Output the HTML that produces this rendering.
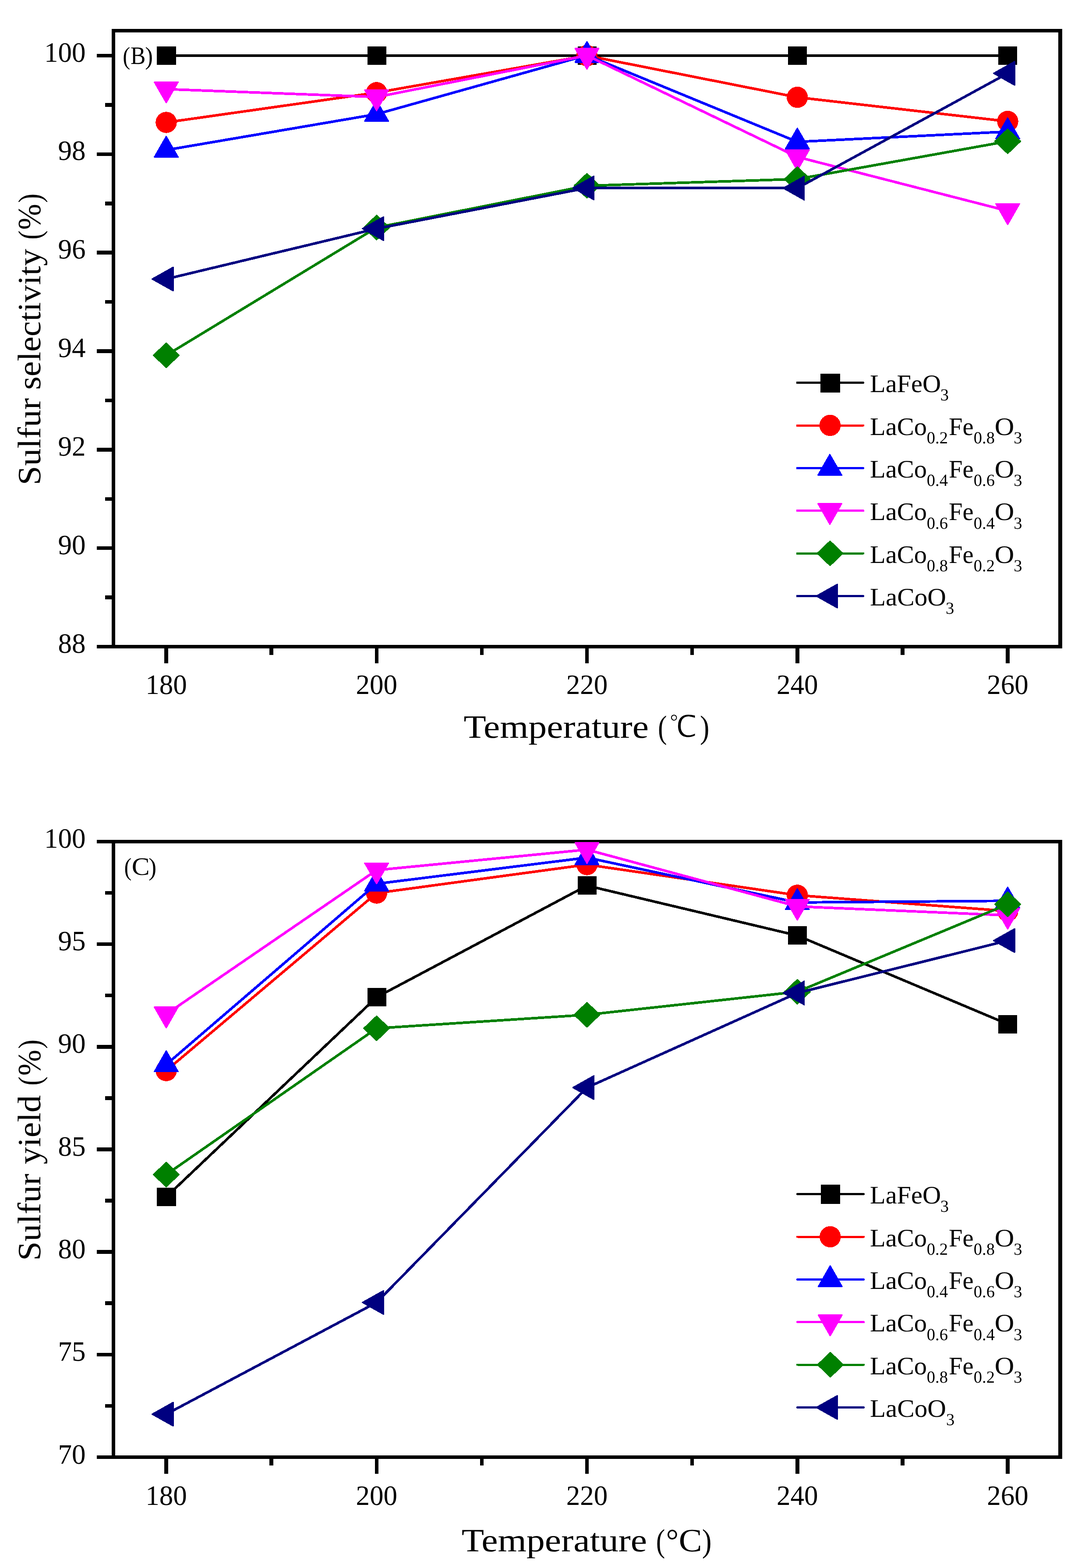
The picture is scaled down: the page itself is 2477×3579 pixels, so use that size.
<!DOCTYPE html>
<html lang="en">
<head>
<meta charset="utf-8">
<title>Sulfur selectivity and sulfur yield vs temperature</title>
<style>
html,body{margin:0;padding:0;background:#fff;}
body{width:2477px;height:3579px;overflow:hidden;}
svg{display:block;}
</style>
</head>
<body>
<svg width="2477" height="3579" viewBox="0 0 2477 3579">
<rect width="2477" height="3579" fill="#ffffff"/>
<g id="chart1">
<path d="M255 66h2170v8h-2170zM255 1472h2170v8h-2170zM255 66h8v1414h-8zM2416 66h9v1414h-9zM221 1472h34v8h-34zM221 1247h34v8h-34zM221 1022h34v9h-34zM221 797h34v9h-34zM221 572h34v9h-34zM221 348h34v8h-34zM221 123h34v8h-34zM240 1359h15v9h-15zM240 1135h15v8h-15zM240 910h15v8h-15zM240 685h15v8h-15zM240 460h15v9h-15zM240 235h15v9h-15zM375 1480h9v34h-9zM856 1480h8v34h-8zM1336 1480h8v34h-8zM1816 1480h9v34h-9zM2296 1480h9v34h-9zM615 1480h9v15h-9zM1096 1480h8v15h-8zM1576 1480h8v15h-8zM2056 1480h9v15h-9z" fill="#000" shape-rendering="crispEdges"/>
<g shape-rendering="crispEdges">
<g><polyline points="379.50,127.00 859.75,127.00 1340.00,127.00 1820.25,127.00 2300.50,127.00" fill="none" stroke="#000000" stroke-width="5.9" stroke-linejoin="round"/>
<rect x="358" y="106" width="44" height="42" fill="#000000"/>
<rect x="839" y="106" width="43" height="42" fill="#000000"/>
<rect x="1319" y="106" width="43" height="42" fill="#000000"/>
<rect x="1799" y="106" width="43" height="42" fill="#000000"/>
<rect x="2279" y="106" width="43" height="42" fill="#000000"/>
</g>
<g><polyline points="379.50,279.45 859.75,211.40 1340.00,127.00 1820.25,222.05 2300.50,277.10" fill="none" stroke="#ff0000" stroke-width="5.9" stroke-linejoin="round"/>
<circle cx="379.50" cy="279.45" r="24.2" fill="#ff0000"/>
<circle cx="859.75" cy="211.40" r="24.2" fill="#ff0000"/>
<circle cx="1340.00" cy="127.00" r="24.2" fill="#ff0000"/>
<circle cx="1820.25" cy="222.05" r="24.2" fill="#ff0000"/>
<circle cx="2300.50" cy="277.10" r="24.2" fill="#ff0000"/>
</g>
<g><polyline points="379.50,342.50 859.75,260.60 1340.00,126.10 1820.25,323.75 2300.50,300.50" fill="none" stroke="#0000ff" stroke-width="5.9" stroke-linejoin="round"/>
<polygon points="352.60,358.50 406.40,358.50 379.50,311.60" fill="#0000ff" stroke="#0000ff" stroke-width="3" stroke-linejoin="round"/>
<polygon points="832.85,276.60 886.65,276.60 859.75,229.70" fill="#0000ff" stroke="#0000ff" stroke-width="3" stroke-linejoin="round"/>
<polygon points="1313.10,142.10 1366.90,142.10 1340.00,95.20" fill="#0000ff" stroke="#0000ff" stroke-width="3" stroke-linejoin="round"/>
<polygon points="1793.35,339.75 1847.15,339.75 1820.25,292.85" fill="#0000ff" stroke="#0000ff" stroke-width="3" stroke-linejoin="round"/>
<polygon points="2273.60,316.50 2327.40,316.50 2300.50,269.60" fill="#0000ff" stroke="#0000ff" stroke-width="3" stroke-linejoin="round"/>
</g>
<g><polyline points="379.50,203.50 859.75,221.40 1340.00,126.70 1820.25,358.20 2300.50,481.40" fill="none" stroke="#ff00ff" stroke-width="5.9" stroke-linejoin="round"/>
<polygon points="352.60,187.50 406.40,187.50 379.50,234.40" fill="#ff00ff" stroke="#ff00ff" stroke-width="3" stroke-linejoin="round"/>
<polygon points="832.85,205.40 886.65,205.40 859.75,252.30" fill="#ff00ff" stroke="#ff00ff" stroke-width="3" stroke-linejoin="round"/>
<polygon points="1313.10,110.70 1366.90,110.70 1340.00,157.60" fill="#ff00ff" stroke="#ff00ff" stroke-width="3" stroke-linejoin="round"/>
<polygon points="1793.35,342.20 1847.15,342.20 1820.25,389.10" fill="#ff00ff" stroke="#ff00ff" stroke-width="3" stroke-linejoin="round"/>
<polygon points="2273.60,465.40 2327.40,465.40 2300.50,512.30" fill="#ff00ff" stroke="#ff00ff" stroke-width="3" stroke-linejoin="round"/>
</g>
<g><polyline points="379.50,811.00 859.75,519.40 1340.00,424.00 1820.25,408.75 2300.50,322.55" fill="none" stroke="#008000" stroke-width="5.9" stroke-linejoin="round"/>
<polygon points="350.50,811.00 379.50,783.35 408.50,811.00 379.50,838.65" fill="#008000" stroke="#008000" stroke-width="3" stroke-linejoin="round"/>
<polygon points="830.75,519.40 859.75,491.75 888.75,519.40 859.75,547.05" fill="#008000" stroke="#008000" stroke-width="3" stroke-linejoin="round"/>
<polygon points="1311.00,424.00 1340.00,396.35 1369.00,424.00 1340.00,451.65" fill="#008000" stroke="#008000" stroke-width="3" stroke-linejoin="round"/>
<polygon points="1791.25,408.75 1820.25,381.10 1849.25,408.75 1820.25,436.40" fill="#008000" stroke="#008000" stroke-width="3" stroke-linejoin="round"/>
<polygon points="2271.50,322.55 2300.50,294.90 2329.50,322.55 2300.50,350.20" fill="#008000" stroke="#008000" stroke-width="3" stroke-linejoin="round"/>
</g>
<g><polyline points="379.50,636.90 859.75,521.90 1340.00,429.05 1820.25,429.45 2300.50,167.40" fill="none" stroke="#000080" stroke-width="5.9" stroke-linejoin="round"/>
<polygon points="395.20,610.15 395.20,663.65 347.50,636.90" fill="#000080" stroke="#000080" stroke-width="3" stroke-linejoin="round"/>
<polygon points="875.45,495.15 875.45,548.65 827.75,521.90" fill="#000080" stroke="#000080" stroke-width="3" stroke-linejoin="round"/>
<polygon points="1355.70,402.30 1355.70,455.80 1308.00,429.05" fill="#000080" stroke="#000080" stroke-width="3" stroke-linejoin="round"/>
<polygon points="1835.95,402.70 1835.95,456.20 1788.25,429.45" fill="#000080" stroke="#000080" stroke-width="3" stroke-linejoin="round"/>
<polygon points="2316.20,140.65 2316.20,194.15 2268.50,167.40" fill="#000080" stroke="#000080" stroke-width="3" stroke-linejoin="round"/>
</g>
<g><path d="M1818.0 873.50H1970.7" stroke="#000000" stroke-width="5.0" fill="none"/><circle cx="1970.7" cy="873.50" r="2.5" fill="#000000"/>
<rect x="1873" y="853.00" width="45" height="43" fill="#000000"/>
</g>
<g><path d="M1818.0 971.00H1970.7" stroke="#ff0000" stroke-width="5.0" fill="none"/><circle cx="1970.7" cy="971.00" r="2.5" fill="#ff0000"/>
<circle cx="1895.00" cy="971.00" r="24.2" fill="#ff0000"/>
</g>
<g><path d="M1818.0 1068.50H1970.7" stroke="#0000ff" stroke-width="5.0" fill="none"/><circle cx="1970.7" cy="1068.50" r="2.5" fill="#0000ff"/>
<polygon points="1867.60,1084.50 1921.40,1084.50 1894.50,1037.60" fill="#0000ff" stroke="#0000ff" stroke-width="3" stroke-linejoin="round"/>
</g>
<g><path d="M1818.0 1165.70H1970.7" stroke="#ff00ff" stroke-width="5.0" fill="none"/><circle cx="1970.7" cy="1165.70" r="2.5" fill="#ff00ff"/>
<polygon points="1867.60,1149.70 1921.40,1149.70 1894.50,1196.60" fill="#ff00ff" stroke="#ff00ff" stroke-width="3" stroke-linejoin="round"/>
</g>
<g><path d="M1818.0 1263.00H1970.7" stroke="#008000" stroke-width="5.0" fill="none"/><circle cx="1970.7" cy="1263.00" r="2.5" fill="#008000"/>
<polygon points="1866.00,1263.00 1895.00,1235.35 1924.00,1263.00 1895.00,1290.65" fill="#008000" stroke="#008000" stroke-width="3" stroke-linejoin="round"/>
</g>
<g><path d="M1818.0 1360.50H1970.7" stroke="#000080" stroke-width="5.0" fill="none"/><circle cx="1970.7" cy="1360.50" r="2.5" fill="#000080"/>
<polygon points="1911.50,1333.75 1911.50,1387.25 1863.80,1360.50" fill="#000080" stroke="#000080" stroke-width="3" stroke-linejoin="round"/>
</g>
</g>
</g>
<g id="chart2">
<path d="M255 1917h2170v8h-2170zM255 3322h2170v8h-2170zM255 1917h8v1413h-8zM2416 1917h9v1413h-9zM221 3322h34v8h-34zM221 3088h34v8h-34zM221 2853h34v9h-34zM221 2619h34v9h-34zM221 2385h34v9h-34zM221 2151h34v8h-34zM221 1917h34v8h-34zM240 3205h15v8h-15zM240 2970h15v9h-15zM240 2736h15v9h-15zM240 2502h15v9h-15zM240 2268h15v8h-15zM240 2034h15v8h-15zM375 3330h9v34h-9zM856 3330h8v34h-8zM1336 3330h8v34h-8zM1816 3330h9v34h-9zM2296 3330h9v34h-9zM615 3330h9v15h-9zM1096 3330h8v15h-8zM1576 3330h8v15h-8zM2056 3330h9v15h-9z" fill="#000" shape-rendering="crispEdges"/>
<g shape-rendering="crispEdges">
<g><polyline points="379.50,2731.95 859.75,2276.20 1340.00,2021.40 1820.25,2135.40 2300.50,2337.50" fill="none" stroke="#000000" stroke-width="5.9" stroke-linejoin="round"/>
<rect x="358" y="2711" width="44" height="42" fill="#000000"/>
<rect x="839" y="2255" width="43" height="42" fill="#000000"/>
<rect x="1319" y="2000" width="43" height="42" fill="#000000"/>
<rect x="1799" y="2114" width="43" height="42" fill="#000000"/>
<rect x="2279" y="2317" width="43" height="42" fill="#000000"/>
</g>
<g><polyline points="379.50,2443.70 859.75,2038.50 1340.00,1973.50 1820.25,2043.40 2300.50,2079.60" fill="none" stroke="#ff0000" stroke-width="5.9" stroke-linejoin="round"/>
<circle cx="379.50" cy="2443.70" r="24.2" fill="#ff0000"/>
<circle cx="859.75" cy="2038.50" r="24.2" fill="#ff0000"/>
<circle cx="1340.00" cy="1973.50" r="24.2" fill="#ff0000"/>
<circle cx="1820.25" cy="2043.40" r="24.2" fill="#ff0000"/>
<circle cx="2300.50" cy="2079.60" r="24.2" fill="#ff0000"/>
</g>
<g><polyline points="379.50,2429.90 859.75,2017.30 1340.00,1957.50 1820.25,2059.90 2300.50,2056.20" fill="none" stroke="#0000ff" stroke-width="5.9" stroke-linejoin="round"/>
<polygon points="352.60,2445.90 406.40,2445.90 379.50,2399.00" fill="#0000ff" stroke="#0000ff" stroke-width="3" stroke-linejoin="round"/>
<polygon points="832.85,2033.30 886.65,2033.30 859.75,1986.40" fill="#0000ff" stroke="#0000ff" stroke-width="3" stroke-linejoin="round"/>
<polygon points="1313.10,1973.50 1366.90,1973.50 1340.00,1926.60" fill="#0000ff" stroke="#0000ff" stroke-width="3" stroke-linejoin="round"/>
<polygon points="1793.35,2075.90 1847.15,2075.90 1820.25,2029.00" fill="#0000ff" stroke="#0000ff" stroke-width="3" stroke-linejoin="round"/>
<polygon points="2273.60,2072.20 2327.40,2072.20 2300.50,2025.30" fill="#0000ff" stroke="#0000ff" stroke-width="3" stroke-linejoin="round"/>
</g>
<g><polyline points="379.50,2314.90 859.75,1986.10 1340.00,1939.30 1820.25,2069.00 2300.50,2089.30" fill="none" stroke="#ff00ff" stroke-width="5.9" stroke-linejoin="round"/>
<polygon points="352.60,2298.90 406.40,2298.90 379.50,2345.80" fill="#ff00ff" stroke="#ff00ff" stroke-width="3" stroke-linejoin="round"/>
<polygon points="832.85,1970.10 886.65,1970.10 859.75,2017.00" fill="#ff00ff" stroke="#ff00ff" stroke-width="3" stroke-linejoin="round"/>
<polygon points="1313.10,1923.30 1366.90,1923.30 1340.00,1970.20" fill="#ff00ff" stroke="#ff00ff" stroke-width="3" stroke-linejoin="round"/>
<polygon points="1793.35,2053.00 1847.15,2053.00 1820.25,2099.90" fill="#ff00ff" stroke="#ff00ff" stroke-width="3" stroke-linejoin="round"/>
<polygon points="2273.60,2073.30 2327.40,2073.30 2300.50,2120.20" fill="#ff00ff" stroke="#ff00ff" stroke-width="3" stroke-linejoin="round"/>
</g>
<g><polyline points="379.50,2681.00 859.75,2347.20 1340.00,2316.25 1820.25,2263.80 2300.50,2064.00" fill="none" stroke="#008000" stroke-width="5.9" stroke-linejoin="round"/>
<polygon points="350.50,2681.00 379.50,2653.35 408.50,2681.00 379.50,2708.65" fill="#008000" stroke="#008000" stroke-width="3" stroke-linejoin="round"/>
<polygon points="830.75,2347.20 859.75,2319.55 888.75,2347.20 859.75,2374.85" fill="#008000" stroke="#008000" stroke-width="3" stroke-linejoin="round"/>
<polygon points="1311.00,2316.25 1340.00,2288.60 1369.00,2316.25 1340.00,2343.90" fill="#008000" stroke="#008000" stroke-width="3" stroke-linejoin="round"/>
<polygon points="1791.25,2263.80 1820.25,2236.15 1849.25,2263.80 1820.25,2291.45" fill="#008000" stroke="#008000" stroke-width="3" stroke-linejoin="round"/>
<polygon points="2271.50,2064.00 2300.50,2036.35 2329.50,2064.00 2300.50,2091.65" fill="#008000" stroke="#008000" stroke-width="3" stroke-linejoin="round"/>
</g>
<g><polyline points="379.50,3227.90 859.75,2972.90 1340.00,2482.45 1820.25,2266.50 2300.50,2146.95" fill="none" stroke="#000080" stroke-width="5.9" stroke-linejoin="round"/>
<polygon points="395.20,3201.15 395.20,3254.65 347.50,3227.90" fill="#000080" stroke="#000080" stroke-width="3" stroke-linejoin="round"/>
<polygon points="875.45,2946.15 875.45,2999.65 827.75,2972.90" fill="#000080" stroke="#000080" stroke-width="3" stroke-linejoin="round"/>
<polygon points="1355.70,2455.70 1355.70,2509.20 1308.00,2482.45" fill="#000080" stroke="#000080" stroke-width="3" stroke-linejoin="round"/>
<polygon points="1835.95,2239.75 1835.95,2293.25 1788.25,2266.50" fill="#000080" stroke="#000080" stroke-width="3" stroke-linejoin="round"/>
<polygon points="2316.20,2120.20 2316.20,2173.70 2268.50,2146.95" fill="#000080" stroke="#000080" stroke-width="3" stroke-linejoin="round"/>
</g>
<g><path d="M1820.5 2725.50H1971.7" stroke="#000000" stroke-width="5.0" fill="none"/><circle cx="1971.7" cy="2725.50" r="2.5" fill="#000000"/><circle cx="1820.5" cy="2725.50" r="2.5" fill="#000000"/>
<rect x="1874" y="2704.00" width="44" height="44" fill="#000000"/>
</g>
<g><path d="M1820.5 2823.00H1971.7" stroke="#ff0000" stroke-width="5.0" fill="none"/><circle cx="1971.7" cy="2823.00" r="2.5" fill="#ff0000"/><circle cx="1820.5" cy="2823.00" r="2.5" fill="#ff0000"/>
<circle cx="1895.30" cy="2823.00" r="24.2" fill="#ff0000"/>
</g>
<g><path d="M1820.5 2920.50H1971.7" stroke="#0000ff" stroke-width="5.0" fill="none"/><circle cx="1971.7" cy="2920.50" r="2.5" fill="#0000ff"/><circle cx="1820.5" cy="2920.50" r="2.5" fill="#0000ff"/>
<polygon points="1868.40,2936.50 1922.20,2936.50 1895.30,2889.60" fill="#0000ff" stroke="#0000ff" stroke-width="3" stroke-linejoin="round"/>
</g>
<g><path d="M1820.5 3017.70H1971.7" stroke="#ff00ff" stroke-width="5.0" fill="none"/><circle cx="1971.7" cy="3017.70" r="2.5" fill="#ff00ff"/><circle cx="1820.5" cy="3017.70" r="2.5" fill="#ff00ff"/>
<polygon points="1868.40,3001.70 1922.20,3001.70 1895.30,3048.60" fill="#ff00ff" stroke="#ff00ff" stroke-width="3" stroke-linejoin="round"/>
</g>
<g><path d="M1820.5 3115.00H1971.7" stroke="#008000" stroke-width="5.0" fill="none"/><circle cx="1971.7" cy="3115.00" r="2.5" fill="#008000"/><circle cx="1820.5" cy="3115.00" r="2.5" fill="#008000"/>
<polygon points="1866.80,3115.00 1895.80,3087.35 1924.80,3115.00 1895.80,3142.65" fill="#008000" stroke="#008000" stroke-width="3" stroke-linejoin="round"/>
</g>
<g><path d="M1820.5 3212.50H1971.7" stroke="#000080" stroke-width="5.0" fill="none"/><circle cx="1971.7" cy="3212.50" r="2.5" fill="#000080"/><circle cx="1820.5" cy="3212.50" r="2.5" fill="#000080"/>
<polygon points="1911.50,3185.75 1911.50,3239.25 1863.80,3212.50" fill="#000080" stroke="#000080" stroke-width="3" stroke-linejoin="round"/>
</g>
</g>
</g>
<g fill="#000" font-family="'Liberation Serif', 'Noto Serif CJK SC', serif" text-rendering="geometricPrecision">
<text x="100.91" y="140.65" font-size="64" textLength="94.56" lengthAdjust="spacingAndGlyphs">100</text>
<text x="132.43" y="365.48" font-size="64" textLength="63.04" lengthAdjust="spacingAndGlyphs">98</text>
<text x="132.43" y="590.32" font-size="64" textLength="63.04" lengthAdjust="spacingAndGlyphs">96</text>
<text x="132.43" y="815.15" font-size="64" textLength="63.04" lengthAdjust="spacingAndGlyphs">94</text>
<text x="132.43" y="1039.98" font-size="64" textLength="63.04" lengthAdjust="spacingAndGlyphs">92</text>
<text x="132.43" y="1264.82" font-size="64" textLength="63.04" lengthAdjust="spacingAndGlyphs">90</text>
<text x="132.43" y="1489.65" font-size="64" textLength="63.04" lengthAdjust="spacingAndGlyphs">88</text>
<text x="332.32" y="1584" font-size="64" textLength="94.56" lengthAdjust="spacingAndGlyphs">180</text>
<text x="812.57" y="1584" font-size="64" textLength="94.56" lengthAdjust="spacingAndGlyphs">200</text>
<text x="1292.82" y="1584" font-size="64" textLength="94.56" lengthAdjust="spacingAndGlyphs">220</text>
<text x="1773.07" y="1584" font-size="64" textLength="94.56" lengthAdjust="spacingAndGlyphs">240</text>
<text x="2253.32" y="1584" font-size="64" textLength="94.56" lengthAdjust="spacingAndGlyphs">260</text>
<text x="100.91" y="1934.65" font-size="64" textLength="94.56" lengthAdjust="spacingAndGlyphs">100</text>
<text x="132.43" y="2168.97" font-size="64" textLength="63.04" lengthAdjust="spacingAndGlyphs">95</text>
<text x="132.43" y="2403.28" font-size="64" textLength="63.04" lengthAdjust="spacingAndGlyphs">90</text>
<text x="132.43" y="2637.6" font-size="64" textLength="63.04" lengthAdjust="spacingAndGlyphs">85</text>
<text x="132.43" y="2871.92" font-size="64" textLength="63.04" lengthAdjust="spacingAndGlyphs">80</text>
<text x="132.43" y="3106.23" font-size="64" textLength="63.04" lengthAdjust="spacingAndGlyphs">75</text>
<text x="132.43" y="3340.55" font-size="64" textLength="63.04" lengthAdjust="spacingAndGlyphs">70</text>
<text x="332.32" y="3435.2" font-size="64" textLength="94.56" lengthAdjust="spacingAndGlyphs">180</text>
<text x="812.57" y="3435.2" font-size="64" textLength="94.56" lengthAdjust="spacingAndGlyphs">200</text>
<text x="1292.82" y="3435.2" font-size="64" textLength="94.56" lengthAdjust="spacingAndGlyphs">220</text>
<text x="1773.07" y="3435.2" font-size="64" textLength="94.56" lengthAdjust="spacingAndGlyphs">240</text>
<text x="2253.32" y="3435.2" font-size="64" textLength="94.56" lengthAdjust="spacingAndGlyphs">260</text>
<text><tspan x="1985.99" y="895" font-size="57.5" textLength="162.14" lengthAdjust="spacingAndGlyphs">LaFeO</tspan><tspan x="2146.69" y="914.4" font-size="38.6" textLength="19.3" lengthAdjust="spacingAndGlyphs">3</tspan></text>
<text><tspan x="1985.99" y="992.5" font-size="57.5" textLength="129.94" lengthAdjust="spacingAndGlyphs">LaCo</tspan><tspan x="2115.79" y="1011.9" font-size="38.6" textLength="48.25" lengthAdjust="spacingAndGlyphs">0.2</tspan><tspan x="2166.02" y="992.5" font-size="57.5" textLength="56.42" lengthAdjust="spacingAndGlyphs">Fe</tspan><tspan x="2222.69" y="1011.9" font-size="38.6" textLength="48.25" lengthAdjust="spacingAndGlyphs">0.8</tspan><tspan x="2270.87" y="992.5" font-size="57.5" textLength="44.57" lengthAdjust="spacingAndGlyphs">O</tspan><tspan x="2314.19" y="1011.9" font-size="38.6" textLength="19.3" lengthAdjust="spacingAndGlyphs">3</tspan></text>
<text><tspan x="1985.99" y="1090" font-size="57.5" textLength="129.94" lengthAdjust="spacingAndGlyphs">LaCo</tspan><tspan x="2115.79" y="1109.4" font-size="38.6" textLength="48.25" lengthAdjust="spacingAndGlyphs">0.4</tspan><tspan x="2166.02" y="1090" font-size="57.5" textLength="56.42" lengthAdjust="spacingAndGlyphs">Fe</tspan><tspan x="2222.69" y="1109.4" font-size="38.6" textLength="48.25" lengthAdjust="spacingAndGlyphs">0.6</tspan><tspan x="2270.87" y="1090" font-size="57.5" textLength="44.57" lengthAdjust="spacingAndGlyphs">O</tspan><tspan x="2314.19" y="1109.4" font-size="38.6" textLength="19.3" lengthAdjust="spacingAndGlyphs">3</tspan></text>
<text><tspan x="1985.99" y="1187.2" font-size="57.5" textLength="129.94" lengthAdjust="spacingAndGlyphs">LaCo</tspan><tspan x="2115.79" y="1206.6" font-size="38.6" textLength="48.25" lengthAdjust="spacingAndGlyphs">0.6</tspan><tspan x="2166.02" y="1187.2" font-size="57.5" textLength="56.42" lengthAdjust="spacingAndGlyphs">Fe</tspan><tspan x="2222.69" y="1206.6" font-size="38.6" textLength="48.25" lengthAdjust="spacingAndGlyphs">0.4</tspan><tspan x="2270.87" y="1187.2" font-size="57.5" textLength="44.57" lengthAdjust="spacingAndGlyphs">O</tspan><tspan x="2314.19" y="1206.6" font-size="38.6" textLength="19.3" lengthAdjust="spacingAndGlyphs">3</tspan></text>
<text><tspan x="1985.99" y="1284.5" font-size="57.5" textLength="129.94" lengthAdjust="spacingAndGlyphs">LaCo</tspan><tspan x="2115.79" y="1303.9" font-size="38.6" textLength="48.25" lengthAdjust="spacingAndGlyphs">0.8</tspan><tspan x="2166.02" y="1284.5" font-size="57.5" textLength="56.42" lengthAdjust="spacingAndGlyphs">Fe</tspan><tspan x="2222.69" y="1303.9" font-size="38.6" textLength="48.25" lengthAdjust="spacingAndGlyphs">0.2</tspan><tspan x="2270.87" y="1284.5" font-size="57.5" textLength="44.57" lengthAdjust="spacingAndGlyphs">O</tspan><tspan x="2314.19" y="1303.9" font-size="38.6" textLength="19.3" lengthAdjust="spacingAndGlyphs">3</tspan></text>
<text><tspan x="1985.98" y="1382" font-size="57.5" textLength="173.97" lengthAdjust="spacingAndGlyphs">LaCoO</tspan><tspan x="2158.89" y="1401.4" font-size="38.6" textLength="19.3" lengthAdjust="spacingAndGlyphs">3</tspan></text>
<text><tspan x="1985.99" y="2747" font-size="57.5" textLength="162.14" lengthAdjust="spacingAndGlyphs">LaFeO</tspan><tspan x="2146.69" y="2766.4" font-size="38.6" textLength="19.3" lengthAdjust="spacingAndGlyphs">3</tspan></text>
<text><tspan x="1985.99" y="2844.5" font-size="57.5" textLength="129.94" lengthAdjust="spacingAndGlyphs">LaCo</tspan><tspan x="2115.79" y="2863.9" font-size="38.6" textLength="48.25" lengthAdjust="spacingAndGlyphs">0.2</tspan><tspan x="2166.02" y="2844.5" font-size="57.5" textLength="56.42" lengthAdjust="spacingAndGlyphs">Fe</tspan><tspan x="2222.69" y="2863.9" font-size="38.6" textLength="48.25" lengthAdjust="spacingAndGlyphs">0.8</tspan><tspan x="2270.87" y="2844.5" font-size="57.5" textLength="44.57" lengthAdjust="spacingAndGlyphs">O</tspan><tspan x="2314.19" y="2863.9" font-size="38.6" textLength="19.3" lengthAdjust="spacingAndGlyphs">3</tspan></text>
<text><tspan x="1985.99" y="2942" font-size="57.5" textLength="129.94" lengthAdjust="spacingAndGlyphs">LaCo</tspan><tspan x="2115.79" y="2961.4" font-size="38.6" textLength="48.25" lengthAdjust="spacingAndGlyphs">0.4</tspan><tspan x="2166.02" y="2942" font-size="57.5" textLength="56.42" lengthAdjust="spacingAndGlyphs">Fe</tspan><tspan x="2222.69" y="2961.4" font-size="38.6" textLength="48.25" lengthAdjust="spacingAndGlyphs">0.6</tspan><tspan x="2270.87" y="2942" font-size="57.5" textLength="44.57" lengthAdjust="spacingAndGlyphs">O</tspan><tspan x="2314.19" y="2961.4" font-size="38.6" textLength="19.3" lengthAdjust="spacingAndGlyphs">3</tspan></text>
<text><tspan x="1985.99" y="3039.2" font-size="57.5" textLength="129.94" lengthAdjust="spacingAndGlyphs">LaCo</tspan><tspan x="2115.79" y="3058.6" font-size="38.6" textLength="48.25" lengthAdjust="spacingAndGlyphs">0.6</tspan><tspan x="2166.02" y="3039.2" font-size="57.5" textLength="56.42" lengthAdjust="spacingAndGlyphs">Fe</tspan><tspan x="2222.69" y="3058.6" font-size="38.6" textLength="48.25" lengthAdjust="spacingAndGlyphs">0.4</tspan><tspan x="2270.87" y="3039.2" font-size="57.5" textLength="44.57" lengthAdjust="spacingAndGlyphs">O</tspan><tspan x="2314.19" y="3058.6" font-size="38.6" textLength="19.3" lengthAdjust="spacingAndGlyphs">3</tspan></text>
<text><tspan x="1985.99" y="3136.5" font-size="57.5" textLength="129.94" lengthAdjust="spacingAndGlyphs">LaCo</tspan><tspan x="2115.79" y="3155.9" font-size="38.6" textLength="48.25" lengthAdjust="spacingAndGlyphs">0.8</tspan><tspan x="2166.02" y="3136.5" font-size="57.5" textLength="56.42" lengthAdjust="spacingAndGlyphs">Fe</tspan><tspan x="2222.69" y="3155.9" font-size="38.6" textLength="48.25" lengthAdjust="spacingAndGlyphs">0.2</tspan><tspan x="2270.87" y="3136.5" font-size="57.5" textLength="44.57" lengthAdjust="spacingAndGlyphs">O</tspan><tspan x="2314.19" y="3155.9" font-size="38.6" textLength="19.3" lengthAdjust="spacingAndGlyphs">3</tspan></text>
<text><tspan x="1985.98" y="3234" font-size="57.5" textLength="173.97" lengthAdjust="spacingAndGlyphs">LaCoO</tspan><tspan x="2160.09" y="3253.4" font-size="38.6" textLength="19.3" lengthAdjust="spacingAndGlyphs">3</tspan></text>
<text><tspan x="280.31" y="146.8" font-size="57.3" textLength="16.93" lengthAdjust="spacingAndGlyphs">(</tspan><tspan x="298" y="146" font-size="57.3" textLength="34.31" lengthAdjust="spacingAndGlyphs">B</tspan><tspan x="331.33" y="146.8" font-size="57.3" textLength="17.8" lengthAdjust="spacingAndGlyphs">)</tspan></text>
<text><tspan x="283.42" y="1997.8" font-size="57.3" textLength="16.81" lengthAdjust="spacingAndGlyphs">(</tspan><tspan x="300.78" y="1997" font-size="57.3" textLength="40.89" lengthAdjust="spacingAndGlyphs">C</tspan><tspan x="339.22" y="1997.8" font-size="57.3" textLength="17.93" lengthAdjust="spacingAndGlyphs">)</tspan></text>
<text><tspan x="1058.59" y="1683.5" font-size="74.5" textLength="422.35" lengthAdjust="spacingAndGlyphs">Temperature</tspan> <tspan x="1501.88" y="1684.9" font-size="74.5" textLength="20.48" lengthAdjust="spacingAndGlyphs">(</tspan><tspan x="1528.05" y="1682.38" font-size="69.5" textLength="62.9" lengthAdjust="spacingAndGlyphs" font-family="'WenQuanYi Zen Hei', 'Noto Sans CJK SC', sans-serif" stroke="#fff" stroke-width="1.3" stroke-linejoin="round">℃</tspan><tspan x="1597.99" y="1684.9" font-size="74.5" textLength="21.44" lengthAdjust="spacingAndGlyphs">)</tspan></text>
<text><tspan x="1053.69" y="3541" font-size="74.5" textLength="423.46" lengthAdjust="spacingAndGlyphs">Temperature</tspan> <tspan x="1497.82" y="3542.4" font-size="74.5" textLength="20.54" lengthAdjust="spacingAndGlyphs">(</tspan><tspan x="1520.44" y="3541" font-size="74.5" textLength="28.67" lengthAdjust="spacingAndGlyphs">°</tspan><tspan x="1549.41" y="3541" font-size="74.5" textLength="53.25" lengthAdjust="spacingAndGlyphs">C</tspan><tspan x="1602.75" y="3542.4" font-size="74.5" textLength="21.81" lengthAdjust="spacingAndGlyphs">)</tspan></text>
<text transform="rotate(-90)"><tspan x="-1107.57" y="91.8" font-size="74.5" textLength="198.86" lengthAdjust="spacingAndGlyphs">Sulfur</tspan> <tspan x="-889.65" y="91.8" font-size="74.5" textLength="321.65" lengthAdjust="spacingAndGlyphs">selectivity</tspan> <tspan x="-546.81" y="93.1" font-size="74.5" textLength="20.37" lengthAdjust="spacingAndGlyphs">(</tspan><tspan x="-524.42" y="91.8" font-size="74.5" textLength="59.07" lengthAdjust="spacingAndGlyphs">%</tspan><tspan x="-462.86" y="93.1" font-size="74.5" textLength="20.94" lengthAdjust="spacingAndGlyphs">)</tspan></text>
<text transform="rotate(-90)"><tspan x="-2877.77" y="91.8" font-size="74.5" textLength="198.65" lengthAdjust="spacingAndGlyphs">Sulfur</tspan> <tspan x="-2657.4" y="91.8" font-size="74.5" textLength="157.4" lengthAdjust="spacingAndGlyphs">yield</tspan> <tspan x="-2477.71" y="93.1" font-size="74.5" textLength="20.37" lengthAdjust="spacingAndGlyphs">(</tspan><tspan x="-2455.32" y="91.8" font-size="74.5" textLength="59.07" lengthAdjust="spacingAndGlyphs">%</tspan><tspan x="-2393.76" y="93.1" font-size="74.5" textLength="20.94" lengthAdjust="spacingAndGlyphs">)</tspan></text>
</g>
</svg>
</body>
</html>
